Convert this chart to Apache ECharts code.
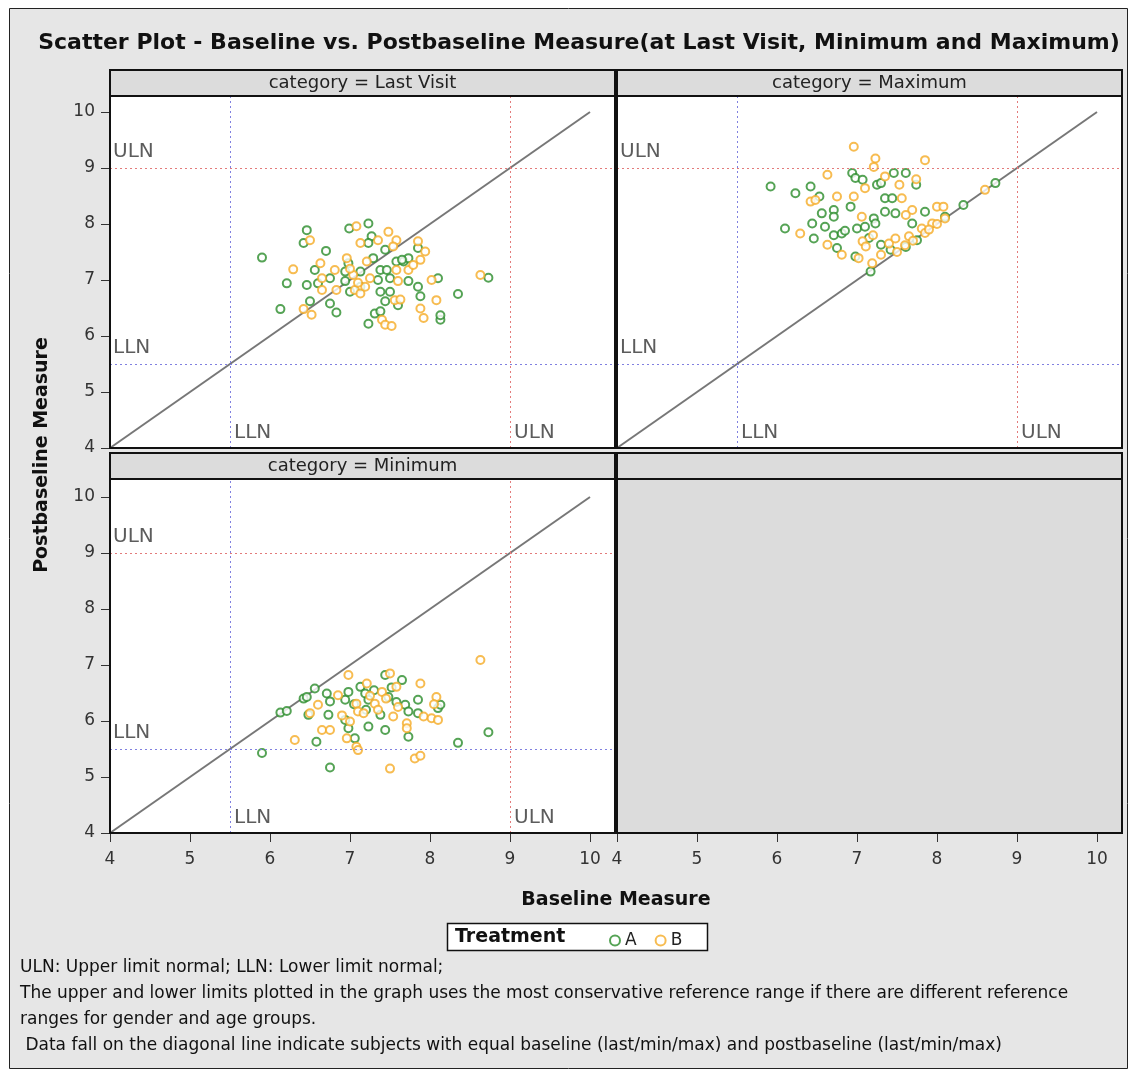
<!DOCTYPE html>
<html>
<head>
<meta charset="utf-8">
<script src="https://cdn.jsdelivr.net/npm/echarts@6/dist/echarts.min.js"></script>
<style>
  html, body { margin: 0; padding: 0; background: #fff; }
  #chart { width: 1133px; height: 1077px; }
</style>
</head>
<body>
<div id="chart"></div>
<script>
// Panel captions and axis ticks
const panelTitles = ['category = Last Visit', 'category = Maximum', 'category = Minimum'];
const axisTicks = [4, 5, 6, 7, 8, 9, 10];
const ULN = 9;
const LLN = 5.5;
const diagonal = [[4, 4], [10, 10]];

// Baseline vs postbaseline pairs, treatment A
const lastVisitA = [[5.90,7.40],[6.46,7.89],[6.42,7.66],[6.70,7.52],[6.99,7.92],[7.23,8.01],[7.27,7.78],[7.23,7.66],[7.44,7.54],[7.58,7.33],[7.67,7.33],[7.73,7.39],[7.85,7.57],[6.56,7.18],[6.75,7.03],[6.94,7.15],[6.98,7.30],[7.29,7.39],[7.38,7.18],[7.50,7.03],[7.35,7.00],[7.13,7.15],[6.21,6.94],[6.46,6.91],[6.60,6.94],[6.94,6.98],[7.00,6.79],[7.13,6.88],[7.38,6.79],[7.50,6.79],[7.73,6.98],[7.85,6.88],[7.88,6.71],[8.10,7.03],[8.35,6.75],[8.73,7.04],[6.13,6.48],[6.50,6.62],[6.75,6.58],[6.83,6.42],[7.44,6.62],[7.60,6.55],[7.23,6.22],[7.31,6.40],[7.38,6.44],[8.13,6.29],[8.13,6.37],[7.65,7.36],[7.46,7.18]];
const maximumA = [[5.92,8.67],[6.23,8.55],[6.42,8.67],[6.53,8.49],[6.94,8.91],[6.98,8.82],[7.07,8.79],[7.25,8.70],[7.30,8.73],[7.46,8.91],[7.61,8.91],[7.74,8.70],[7.35,8.46],[7.44,8.46],[6.92,8.31],[6.56,8.19],[6.71,8.25],[6.71,8.13],[7.35,8.22],[7.48,8.19],[7.85,8.22],[8.33,8.34],[8.73,8.73],[8.10,8.13],[6.10,7.92],[6.44,8.01],[7.21,8.10],[7.23,8.01],[7.69,8.01],[6.46,7.74],[6.71,7.80],[6.81,7.83],[6.75,7.57],[6.98,7.42],[7.30,7.63],[7.42,7.54],[7.17,7.15],[7.61,7.59],[7.75,7.71],[7.00,7.92],[7.10,7.95],[6.60,7.95],[6.85,7.88],[7.15,7.75]];
const minimumA = [[5.90,5.43],[6.75,5.17],[6.13,6.15],[6.21,6.18],[6.42,6.40],[6.46,6.43],[6.56,6.58],[6.48,6.11],[6.71,6.49],[6.73,6.11],[6.58,5.63],[6.94,6.38],[6.98,6.52],[7.13,6.61],[6.94,6.02],[6.98,5.87],[7.06,5.69],[7.23,5.90],[7.19,6.49],[7.23,6.38],[7.44,6.82],[7.38,6.11],[7.44,5.84],[7.48,6.43],[7.58,6.34],[7.65,6.73],[7.69,6.29],[7.73,6.17],[7.85,6.38],[7.73,5.72],[7.85,6.14],[8.10,6.23],[8.13,6.29],[8.35,5.61],[8.73,5.80],[7.30,6.55],[7.05,6.30],[7.52,6.60],[6.75,6.35],[7.20,6.20]];

// Baseline vs postbaseline pairs, treatment B
const lastVisitB = [[7.08,7.96],[6.50,7.71],[7.13,7.66],[7.35,7.71],[7.48,7.86],[7.58,7.71],[7.54,7.60],[7.85,7.69],[7.94,7.51],[6.96,7.39],[7.21,7.33],[6.63,7.30],[6.29,7.19],[7.88,7.36],[7.73,7.18],[7.79,7.27],[7.58,7.18],[6.81,7.18],[6.65,7.03],[7.04,7.09],[7.25,7.03],[7.60,6.98],[8.02,7.00],[8.63,7.09],[6.65,6.82],[6.83,6.82],[7.06,6.82],[7.13,6.76],[7.19,6.88],[7.56,6.64],[7.63,6.65],[8.08,6.64],[7.88,6.49],[6.42,6.48],[6.52,6.38],[7.40,6.29],[7.44,6.20],[7.52,6.18],[7.92,6.32],[7.10,6.95],[7.00,7.20]];
const maximumB = [[6.96,9.38],[7.23,9.17],[7.21,9.02],[7.85,9.14],[6.63,8.88],[7.35,8.85],[7.74,8.80],[7.53,8.70],[7.10,8.64],[6.75,8.49],[6.96,8.49],[7.56,8.46],[6.42,8.40],[6.48,8.43],[8.00,8.31],[8.08,8.31],[7.69,8.25],[7.06,8.13],[7.61,8.16],[7.81,7.92],[7.94,8.01],[8.60,8.61],[6.29,7.83],[6.63,7.63],[6.81,7.45],[7.02,7.39],[7.19,7.30],[7.07,7.69],[7.11,7.60],[7.40,7.65],[7.48,7.74],[7.65,7.78],[7.85,7.84],[7.50,7.50],[7.70,7.70],[7.90,7.90],[8.00,8.00],[8.10,8.10],[7.60,7.62],[7.30,7.45],[7.20,7.80]];
const minimumB = [[8.63,7.09],[6.98,6.82],[7.21,6.67],[7.50,6.85],[7.88,6.67],[8.08,6.43],[6.60,6.29],[6.50,6.14],[6.65,5.84],[6.75,5.84],[6.31,5.66],[7.08,6.31],[7.10,6.17],[7.17,6.14],[7.31,6.31],[7.35,6.20],[7.54,6.08],[7.71,5.96],[7.71,5.87],[7.92,6.08],[8.02,6.05],[8.10,6.02],[6.96,5.69],[7.08,5.54],[7.10,5.48],[7.81,5.33],[7.88,5.38],[7.50,5.15],[7.00,5.99],[7.58,6.61],[7.40,6.52],[6.85,6.46],[7.45,6.40],[7.60,6.25],[6.90,6.10],[7.25,6.45],[8.05,6.30]];

const footnotes = [
  'ULN: Upper limit normal; LLN: Lower limit normal;',
  'The upper and lower limits plotted in the graph uses the most conservative reference range if there are different reference',
  'ranges for gender and age groups.',
  ' Data fall on the diagonal line indicate subjects with equal baseline (last/min/max) and postbaseline (last/min/max)'
];

const FONT = '"DejaVu Sans", Verdana, sans-serif';
const GREEN = '#2a8c2a';
const ORANGE = '#f5ab26';
const RED_REF = '#e37b7b';
const BLUE_REF = '#8080e0';

// Layout of the 2x2 lattice (plot areas, headers above each)
const colX = [110, 617];
const panelW = 505;
const rowTop = [96, 479];
const panelH = [352, 354];
const headerH = 26;
// value range so that 4..10 spans 480 px x 336 px
const xMax = 4 + panelW / 80;
const yMaxes = [4 + panelH[0] / 56, 4 + panelH[1] / 56];

const cells = [
  { col: 0, row: 0, title: panelTitles[0], a: lastVisitA, b: lastVisitB, xLab: false, yLab: true },
  { col: 1, row: 0, title: panelTitles[1], a: maximumA, b: maximumB, xLab: false, yLab: false },
  { col: 0, row: 1, title: panelTitles[2], a: minimumA, b: minimumB, xLab: true, yLab: true },
  { col: 1, row: 1, title: '', a: null, b: null, xLab: true, yLab: false }
];

const grid = [], xAxis = [], yAxis = [], series = [], graphics = [];

// frame and grey page
graphics.push({ type: 'rect', z: -10, shape: { x: 9.5, y: 8.5, width: 1118, height: 1060 },
  style: { fill: '#e6e6e6', stroke: '#222', lineWidth: 1 } });

cells.forEach((c, i) => {
  const left = colX[c.col], top = rowTop[c.row], h = panelH[c.row];
  grid.push({ left: left, top: top, width: panelW, height: h, show: true,
    backgroundColor: c.a ? '#ffffff' : '#dcdcdc', borderWidth: 0 });
  const tickStyle = { show: true, length: 9, lineStyle: { color: '#333', width: 1 }, customValues: axisTicks };
  const labelStyle = { show: true, customValues: axisTicks, color: '#333', fontSize: 17, fontFamily: FONT };
  xAxis.push({ gridIndex: i, type: 'value', min: 4, max: xMax,
    axisLine: { show: false }, splitLine: { show: false },
    axisTick: c.xLab ? tickStyle : { show: false },
    axisLabel: c.xLab ? Object.assign({ margin: 18 }, labelStyle) : { show: false } });
  yAxis.push({ gridIndex: i, type: 'value', min: 4, max: yMaxes[c.row],
    axisLine: { show: false }, splitLine: { show: false },
    axisTick: c.yLab ? tickStyle : { show: false },
    axisLabel: c.yLab ? Object.assign({ margin: 15 }, labelStyle) : { show: false } });

  // header strip
  graphics.push({ type: 'rect', z: 20, shape: { x: left, y: top - headerH, width: panelW, height: headerH },
    style: { fill: '#dcdcdc', stroke: '#111', lineWidth: 2 } });
  if (c.title) {
    graphics.push({ type: 'text', z: 21, x: left + panelW / 2, y: top - headerH / 2,
      style: { text: c.title, fill: '#222', font: '18px ' + FONT, textAlign: 'center', textVerticalAlign: 'middle' } });
  }
  // panel border
  graphics.push({ type: 'rect', z: 20, shape: { x: left, y: top, width: panelW, height: h },
    style: { fill: 'none', stroke: '#111', lineWidth: 2 } });

  if (!c.a) return;

  // reference limits and their captions
  series.push({ type: 'line', xAxisIndex: i, yAxisIndex: i, data: [], silent: true,
    markLine: { silent: true, symbol: 'none', label: { show: false }, animation: false,
      data: [
        { yAxis: ULN, lineStyle: { color: RED_REF, type: [2, 3], width: 1 } },
        { xAxis: ULN, lineStyle: { color: RED_REF, type: [2, 3], width: 1 } },
        { yAxis: LLN, lineStyle: { color: BLUE_REF, type: [2, 3], width: 1 } },
        { xAxis: LLN, lineStyle: { color: BLUE_REF, type: [2, 3], width: 1 } }
      ] } });
  series.push({ type: 'scatter', xAxisIndex: i, yAxisIndex: i, symbolSize: 0, silent: true, z: 3,
    data: [
      { value: [4, ULN], label: { formatter: 'ULN', position: [3, -26] } },
      { value: [4, LLN], label: { formatter: 'LLN', position: [3, -26] } },
      { value: [LLN, 4], label: { formatter: 'LLN', position: [4, -25] } },
      { value: [ULN, 4], label: { formatter: 'ULN', position: [4, -25] } }
    ],
    label: { show: true, color: '#333', fontSize: 20, fontFamily: FONT, align: 'left', verticalAlign: 'top' } });
  // identity line
  series.push({ type: 'line', xAxisIndex: i, yAxisIndex: i, data: diagonal, symbol: 'none', silent: true,
    lineStyle: { color: '#777', width: 2 }, z: 2 });
  series.push({ name: 'A', type: 'scatter', xAxisIndex: i, yAxisIndex: i, data: c.a,
    symbol: 'emptyCircle', symbolSize: 8, itemStyle: { color: GREEN, borderColor: GREEN, borderWidth: 1.8 }, z: 4 });
  series.push({ name: 'B', type: 'scatter', xAxisIndex: i, yAxisIndex: i, data: c.b,
    symbol: 'emptyCircle', symbolSize: 8, itemStyle: { color: ORANGE, borderColor: ORANGE, borderWidth: 1.8 }, z: 4 });
});

// titles
graphics.push({ type: 'text', z: 21, x: 579, y: 43,
  style: { text: 'Scatter Plot - Baseline vs. Postbaseline Measure(at Last Visit, Minimum and Maximum)',
    fill: '#111', font: 'bold 22px ' + FONT, textAlign: 'center', textVerticalAlign: 'middle' } });
graphics.push({ type: 'text', z: 21, x: 616, y: 900,
  style: { text: 'Baseline Measure', fill: '#111', font: 'bold 19px ' + FONT, textAlign: 'center', textVerticalAlign: 'middle' } });
graphics.push({ type: 'text', z: 21, x: 42, y: 455, rotation: Math.PI / 2,
  style: { text: 'Postbaseline Measure', fill: '#111', font: 'bold 19px ' + FONT, textAlign: 'center', textVerticalAlign: 'middle' } });

// legend box
graphics.push({ type: 'rect', z: 19, shape: { x: 447.5, y: 923.5, width: 260, height: 27 },
  style: { fill: '#fff', stroke: '#111', lineWidth: 1.5 } });
graphics.push({ type: 'text', z: 21, x: 455, y: 937,
  style: { text: 'Treatment', fill: '#111', font: 'bold 19px ' + FONT, textAlign: 'left', textVerticalAlign: 'middle' } });

// footnotes
footnotes.forEach((t, k) => {
  graphics.push({ type: 'text', z: 21, x: 20, y: 968 + k * 25.8,
    style: { text: t, fill: '#111', font: '17px ' + FONT, textAlign: 'left', textVerticalAlign: 'middle' } });
});

const chart = echarts.init(document.getElementById('chart'), null, { renderer: 'canvas' });
chart.setOption({
  animation: false,
  backgroundColor: '#ffffff',
  grid, xAxis, yAxis, series,
  legend: {
    data: ['A', 'B'], left: 604, top: 927, itemWidth: 10, itemHeight: 10, itemGap: 18, z: 22,
    textStyle: { fontSize: 17, color: '#222', fontFamily: FONT }
  },
  graphic: { elements: graphics }
});
</script>
</body>
</html>
